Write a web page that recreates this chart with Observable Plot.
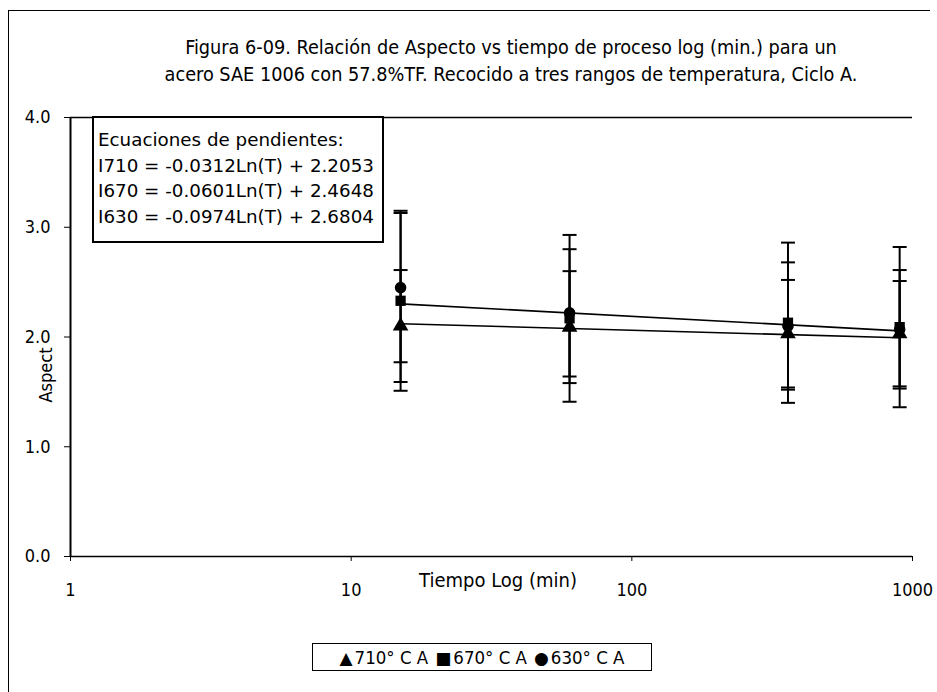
<!DOCTYPE html>
<html>
<head>
<meta charset="utf-8">
<script src="https://cdn.jsdelivr.net/npm/d3@7"></script>
<script src="https://cdn.jsdelivr.net/npm/@observablehq/plot@0.6"></script>
<style>
  body { margin: 0; background: #fff; }
  #chart { position: relative; width: 937px; height: 692px; overflow: hidden; background: #fff; color: #000; }
  #chart svg { position: absolute; left: 0; top: 0; }
  .edge { position: absolute; background: #000; }
  #title { position: absolute; left: 80px; width: 862px; top: 34px; text-align: center;
           font-family: "DejaVu Sans Condensed", "DejaVu Sans", sans-serif; font-size: 19.7px; line-height: 27px; white-space: nowrap; }
  #eqbox { position: absolute; left: 92px; top: 116px; width: 292px; height: 127px; box-sizing: border-box;
           border: 2px solid #000; background: #fff; padding: 9px 0 0 4px;
           font-family: "DejaVu Sans", sans-serif; font-size: 18.3px; line-height: 25.5px; white-space: nowrap; }
  #ylabel { position: absolute; left: 45px; top: 375px; transform: translate(-50%, -50%) rotate(-90deg);
            font-family: "DejaVu Sans Condensed", "DejaVu Sans", sans-serif; font-size: 18px; white-space: nowrap; }
  #xlabel { position: absolute; left: 498px; top: 580px; transform: translate(-50%, -50%);
            font-family: "DejaVu Sans Condensed", "DejaVu Sans", sans-serif; font-size: 20px; white-space: nowrap; }
  #legend { position: absolute; left: 312px; top: 643px; width: 340px; height: 28px; box-sizing: border-box;
            border: 1px solid #000; display: flex; align-items: center; justify-content: center; gap: 7px;
            font-family: "DejaVu Sans Condensed", "DejaVu Sans", sans-serif; font-size: 18.5px; white-space: nowrap; }
  #legend .sym { font-family: "DejaVu Sans", sans-serif; font-size: 17px; margin-right: 2px; }
</style>
</head>
<body>
<div id="chart">
  <div class="edge" style="left:8px; top:10px; width:1px; height:682px;"></div>
  <div class="edge" style="left:8px; top:10px; width:922px; height:1px;"></div>
  <div id="title">Figura 6-09. Relación de Aspecto vs tiempo de proceso log (min.) para un<br>acero SAE 1006 con 57.8%TF. Recocido a tres rangos de temperatura, Ciclo A.</div>
  <div id="eqbox"></div>
  <div id="ylabel">Aspect</div>
  <div id="xlabel">Tiempo Log (min)</div>
  <div id="legend"></div>
</div>
<script>
// Annealing time (min) at which each condition was sampled
const times = [15, 60, 360, 900];

// Series names and marker shapes
const seriesNames = ["710° C A", "670° C A", "630° C A"];
const seriesSymbols = ["triangle", "square", "circle"];
const seriesGlyphs = ["▲", "■", "●"];

// Mean aspect ratio per time, and the ± spread shown by the error bars
const aspect710 = [2.10, 2.09, 2.03, 2.03];
const spread710 = [0.51, 0.51, 0.49, 0.48];
const aspect670 = [2.33, 2.17, 2.13, 2.09];
const spread670 = [0.82, 0.76, 0.73, 0.73];
const aspect630 = [2.45, 2.22, 2.10, 2.07];
const spread630 = [0.68, 0.58, 0.58, 0.54];

// Logarithmic fits: I = slope·Ln(T) + intercept
const fitNames = ["I710", "I670", "I630"];
const fitSlopes = [-0.0312, -0.0601, -0.0974];
const fitIntercepts = [2.2053, 2.4648, 2.6804];
const fitDrawn = [true, true, false];

// Axis ticks
const xTicks = [1, 10, 100, 1000];
const yTicks = [0, 1, 2, 3, 4];

const means = [aspect710, aspect670, aspect630];
const spreads = [spread710, spread670, spread630];

const points = [];
seriesNames.forEach((name, s) => {
  times.forEach((t, i) => {
    const v = means[s][i], e = spreads[s][i];
    points.push({series: name, symbol: seriesSymbols[s], t, v, lo: v - e, hi: v + e});
  });
});
const caps = points.flatMap(p => [{t: p.t, y: p.lo}, {t: p.t, y: p.hi}]);

const fitLines = fitNames
  .map((name, s) => ({name, s}))
  .filter(d => fitDrawn[d.s])
  .map(({s}) => {
    const f = t => fitSlopes[s] * Math.log(t) + fitIntercepts[s];
    const t1 = times[0], t2 = times[times.length - 1];
    return {x1: t1, y1: f(t1), x2: t2, y2: f(t2)};
  });

// Horizontal bar used as an error-bar cap
const capSymbol = {
  draw(context, size) {
    const r = Math.sqrt(size / Math.PI);
    context.moveTo(-r, 0);
    context.lineTo(r, 0);
  }
};

const chart = Plot.plot({
  width: 937,
  height: 692,
  marginLeft: 70,
  marginRight: 25,
  marginTop: 117,
  marginBottom: 136,
  style: {fontFamily: "'DejaVu Sans Condensed', 'DejaVu Sans', sans-serif", fontSize: "18px", color: "#000", background: "transparent"},
  x: {type: "log", domain: [1, 1000], ticks: xTicks, tickFormat: d => String(d), tickSize: 5, tickPadding: 22, label: null},
  y: {domain: [0, 4], ticks: yTicks, tickFormat: d3.format(".1f"), tickSize: 6, tickPadding: 14, label: null},
  marks: [
    Plot.ruleY([4], {x1: 1, x2: 1000, stroke: "#000", strokeWidth: 1.5}),
    Plot.ruleY([0], {x1: 1, x2: 1000, stroke: "#000", strokeWidth: 1.5}),
    Plot.ruleX([1], {y1: 0, y2: 4, stroke: "#000", strokeWidth: 2}),
    Plot.link(fitLines, {x1: "x1", y1: "y1", x2: "x2", y2: "y2", stroke: "#000", strokeWidth: 1.6}),
    Plot.ruleX(points, {x: "t", y1: "lo", y2: "hi", stroke: "#000", strokeWidth: 2}),
    Plot.dot(caps, {x: "t", y: "y", symbol: capSymbol, r: 7, fill: "none", stroke: "#000", strokeWidth: 2}),
    Plot.dot(points, {x: "t", y: "v", symbol: "symbol", r: 5.8, fill: "#000", stroke: "none"})
  ]
});
chart.style.position = "absolute";
document.getElementById("chart").insertBefore(chart, document.getElementById("eqbox"));

// Equation box
const eqbox = document.getElementById("eqbox");
const lines = ["Ecuaciones de pendientes:"].concat(
  fitNames.map((n, s) => `${n} = ${fitSlopes[s].toFixed(4)}Ln(T) + ${fitIntercepts[s].toFixed(4)}`)
);
lines.forEach(l => { const d = document.createElement("div"); d.textContent = l; eqbox.appendChild(d); });

// Series legend
const legend = document.getElementById("legend");
seriesNames.forEach((n, s) => {
  const item = document.createElement("span");
  const g = document.createElement("span");
  g.className = "sym";
  g.textContent = seriesGlyphs[s];
  item.appendChild(g);
  item.appendChild(document.createTextNode(n));
  legend.appendChild(item);
});
</script>
</body>
</html>
